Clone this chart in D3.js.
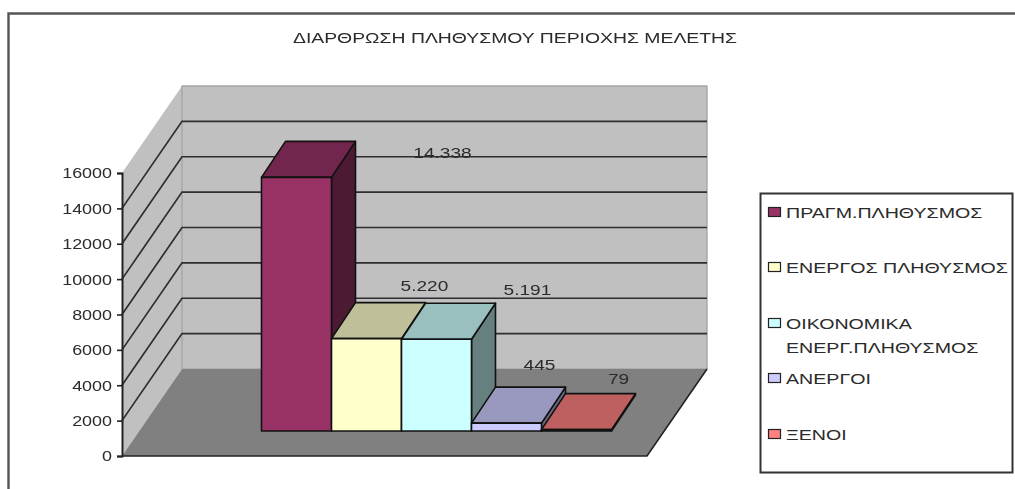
<!DOCTYPE html>
<html>
<head>
<meta charset="utf-8">
<script src="https://cdn.jsdelivr.net/npm/d3@7"></script>
<style>
  html, body { margin: 0; padding: 0; background: #fff; overflow: hidden; }
  svg { display: block; filter: blur(0.7px); }
  text { font-family: "Liberation Sans", Arial, sans-serif; fill: #2b2b2b; }
</style>
</head>
<body>
<div id="chart"></div>
<script>
// data
var titleText = "ΔΙΑΡΘΡΩΣΗ ΠΛΗΘΥΣΜΟΥ ΠΕΡΙΟΧΗΣ ΜΕΛΕΤΗΣ";
var categories = ["ΠΡΑΓΜ.ΠΛΗΘΥΣΜΟΣ", "ΕΝΕΡΓΟΣ ΠΛΗΘΥΣΜΟΣ", "ΟΙΚΟΝΟΜΙΚΑ ΕΝΕΡΓ.ΠΛΗΘΥΣΜΟΣ", "ΑΝΕΡΓΟΙ", "ΞΕΝΟΙ"];
var values = [14338, 5220, 5191, 445, 79];
var valueLabels = ["14.338", "5.220", "5.191", "445", "79"];
var yTicks = [0, 2000, 4000, 6000, 8000, 10000, 12000, 14000, 16000];

// layout
var colors = ["#993366", "#ffffcc", "#ccffff", "#ccccff", "#ff8080"];
var legendLines = [["ΠΡΑΓΜ.ΠΛΗΘΥΣΜΟΣ"], ["ΕΝΕΡΓΟΣ ΠΛΗΘΥΣΜΟΣ"], ["ΟΙΚΟΝΟΜΙΚΑ", "ΕΝΕΡΓ.ΠΛΗΘΥΣΜΟΣ"], ["ΑΝΕΡΓΟΙ"], ["ΞΕΝΟΙ"]];
var legendRowY = [212, 267, 323, 378, 434];
var labelOffset = [[146, -25], [58, -53], [91, -50], [33, -59], [42, -51]];
var fontSize = "15.5px";

var svg = d3.select("#chart").append("svg")
    .attr("width", 1015)
    .attr("height", 489);

var y = d3.scaleLinear().domain([0, 16000]).range([456, 173]);
var x = d3.scaleBand().domain(categories).range([261.5, 611.5]);

// 3D offsets of the box and of the bars
var wallDx = 60, wallDy = 87, floorLift = 25, barDx = 24, barDy = 36;
var frontLeft = 122, frontRight = 647;

function poly(points, fill, stroke, sw) {
    svg.append("polygon")
        .attr("points", points.map(p => p.join(",")).join(" "))
        .attr("fill", fill)
        .attr("stroke", stroke || "none")
        .attr("stroke-width", sw || 0)
        .attr("stroke-linejoin", "round");
}

// shade a colour for the top and side faces
function shade(c, k) {
    var r = d3.rgb(c);
    return d3.rgb(r.r * k, r.g * k, r.b * k).formatHex();
}

// the reference text is wider than the font, so stretch the glyphs
function stretch(sel, k) {
    sel.each(function () {
        d3.select(this)
            .attr("textLength", this.getComputedTextLength() * k)
            .attr("lengthAdjust", "spacingAndGlyphs");
    });
}

// outer frame
svg.append("path")
    .attr("d", "M8.5,489V13.5H1015")
    .attr("fill", "none")
    .attr("stroke", "#555")
    .attr("stroke-width", 2.4);

svg.append("text")
    .attr("x", 515)
    .attr("y", 42.5)
    .attr("text-anchor", "middle")
    .style("font-size", fontSize)
    .text(titleText)
    .call(stretch, 1.25);

// side wall, back wall, floor
poly([[frontLeft, y(0)], [frontLeft, y(16000)], [frontLeft + wallDx, y(16000) - wallDy], [frontLeft + wallDx, y(0) - wallDy]], "#c0c0c0");
poly([[frontLeft + wallDx, y(16000) - wallDy], [frontRight + wallDx, y(16000) - wallDy], [frontRight + wallDx, y(0) - wallDy], [frontLeft + wallDx, y(0) - wallDy]], "#c0c0c0", "#a6a6a6", 1.4);
poly([[frontLeft, y(0)], [frontRight, y(0)], [frontRight + wallDx, y(0) - wallDy], [frontLeft + wallDx, y(0) - wallDy]], "#808080");

// grid lines on both walls
yTicks.filter(d => d > 0 && d < 16000).forEach(function (d) {
    svg.append("path")
        .attr("d", d3.line()([[frontLeft, y(d)], [frontLeft + wallDx, y(d) - wallDy], [frontRight + wallDx, y(d) - wallDy]]))
        .attr("fill", "none")
        .attr("stroke", "#2e2e2e")
        .attr("stroke-width", 1.7);
});

// floor edges
svg.append("path")
    .attr("d", d3.line()([[frontLeft, y(0)], [frontRight, y(0)], [frontRight + wallDx, y(0) - wallDy]]))
    .attr("fill", "none")
    .attr("stroke", "#222")
    .attr("stroke-width", 1.6);

// bars
categories.forEach(function (c, i) {
    var x0 = x(c), x1 = x0 + x.bandwidth();
    var base = y(0) - floorLift, top = y(values[i]) - floorLift;
    var edge = "#111";
    // side
    poly([[x1, base], [x1, top], [x1 + barDx, top - barDy], [x1 + barDx, base - barDy]], shade(colors[i], 0.5), edge, 1.6);
    // top
    poly([[x0, top], [x1, top], [x1 + barDx, top - barDy], [x0 + barDx, top - barDy]], shade(colors[i], 0.75), edge, 1.6);
    // front
    poly([[x0, base], [x0, top], [x1, top], [x1, base]], colors[i], edge, 1.6);
});

// value labels
svg.selectAll(".value-label")
    .data(categories)
    .enter()
    .append("text")
    .attr("class", "value-label")
    .attr("x", (c, i) => x(c) + x.bandwidth() / 2 + labelOffset[i][0])
    .attr("y", (c, i) => y(values[i]) - floorLift + labelOffset[i][1] + 5.5)
    .attr("text-anchor", "middle")
    .style("font-size", fontSize)
    .text((c, i) => valueLabels[i])
    .call(stretch, 1.23);

// y axis
var yAxis = svg.append("g")
    .attr("transform", "translate(" + frontLeft + ",0)")
    .call(d3.axisLeft(y).tickValues(yTicks).tickFormat(d3.format("d")).tickSize(5).tickPadding(5));
yAxis.select(".domain").attr("stroke", "#222").attr("stroke-width", 2);
yAxis.selectAll(".tick line").attr("stroke", "#222").attr("stroke-width", 1.6);
yAxis.selectAll(".tick text")
    .style("font-family", "'Liberation Sans', Arial, sans-serif")
    .style("font-size", fontSize)
    .attr("fill", "#2b2b2b")
    .call(stretch, 1.156);

// legend
svg.append("rect")
    .attr("x", 760.5)
    .attr("y", 193.5)
    .attr("width", 252)
    .attr("height", 279)
    .attr("fill", "#fff")
    .attr("stroke", "#333")
    .attr("stroke-width", 2);

categories.forEach(function (c, i) {
    svg.append("rect")
        .attr("x", 768.5)
        .attr("y", legendRowY[i] - 4.5)
        .attr("width", 12)
        .attr("height", 9)
        .attr("fill", colors[i])
        .attr("stroke", "#222")
        .attr("stroke-width", 1.2);
    legendLines[i].forEach(function (line, j) {
        svg.append("text")
            .attr("x", 786)
            .attr("y", legendRowY[i] + 5.5 + j * 24)
            .style("font-size", fontSize)
            .text(line)
            .call(stretch, 1.265);
    });
});
</script>
</body>
</html>
